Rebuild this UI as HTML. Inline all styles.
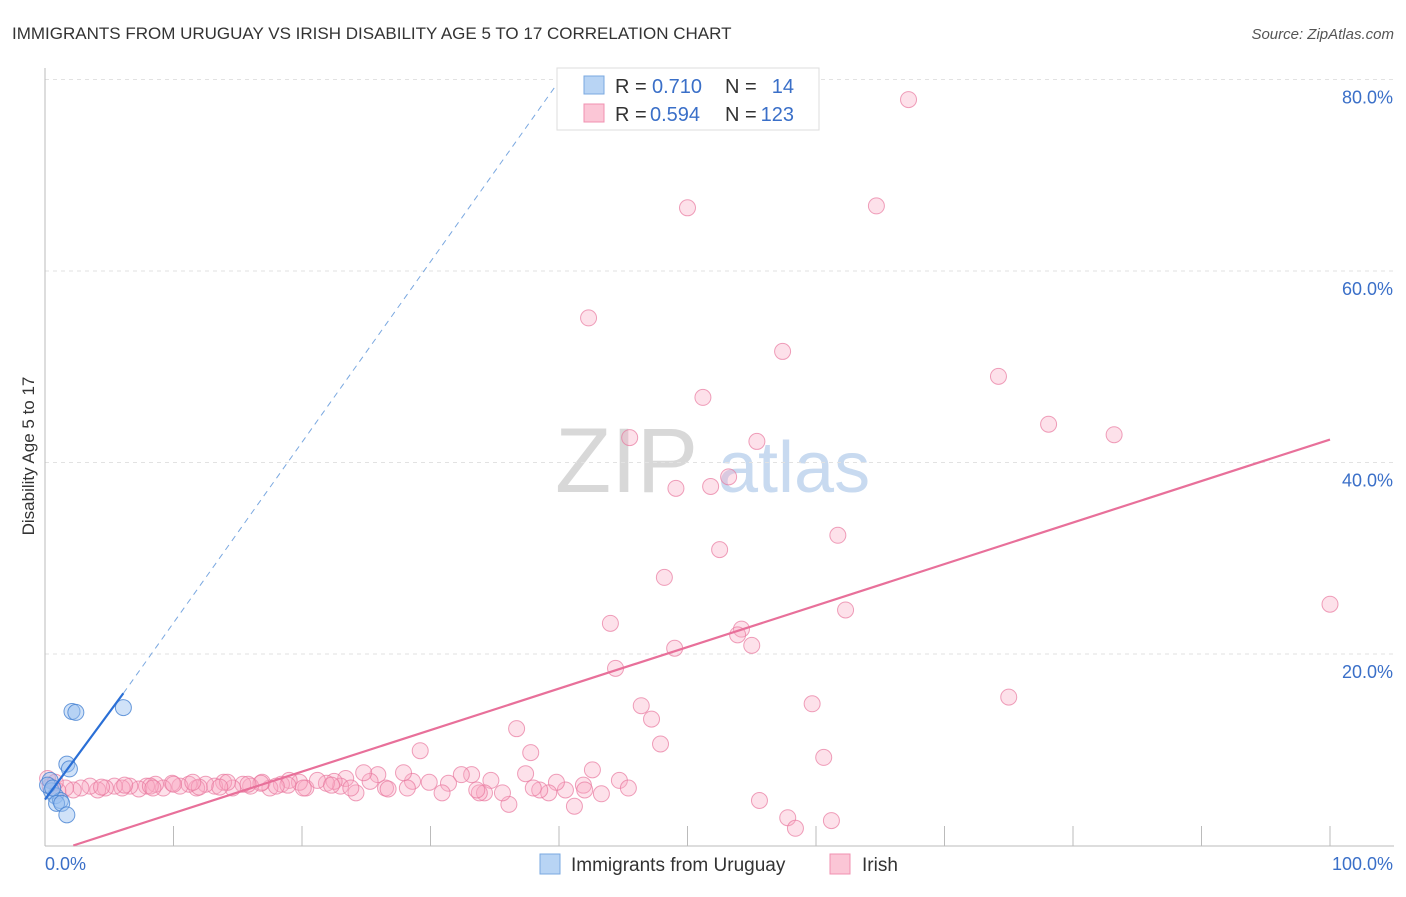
<!DOCTYPE html>
<html><head><meta charset="utf-8"><style>
body{margin:0;background:#fff;font-family:"Liberation Sans",sans-serif;}
svg text{font-family:"Liberation Sans",sans-serif;}
</style></head><body>
<svg id="c" width="1406" height="892">
<text x="12" y="39" font-size="17" fill="#333">IMMIGRANTS FROM URUGUAY VS IRISH DISABILITY AGE 5 TO 17 CORRELATION CHART</text>
<text x="1394" y="39" font-size="15" fill="#555" font-style="italic" text-anchor="end">Source: ZipAtlas.com</text>
<text x="34" y="456" font-size="17" fill="#333" text-anchor="middle" transform="rotate(-90 34 456)">Disability Age 5 to 17</text>
<text x="555" y="492" font-size="92" fill="#d8d8d8" font-family="Liberation Serif">ZIP</text>
<text x="718" y="492" font-size="72" fill="#c8daf0">atlas</text>
<g id="grid"></g><g id="pts"></g><g id="lines"></g>
<g>
<rect x="557" y="68" width="262" height="62" fill="#fff" stroke="#ddd"/>
<rect x="584" y="76" width="20" height="18" fill="#b8d4f4" stroke="#7aa8e0"/>
<rect x="584" y="104" width="20" height="18" fill="#fbc6d6" stroke="#f090b0"/>
<text x="615" y="93" font-size="20" fill="#333">R =</text>
<text x="652" y="93" font-size="20" fill="#3a6fc8">0.710</text>
<text x="725" y="93" font-size="20" fill="#333">N =</text>
<text x="794" y="93" font-size="20" fill="#3a6fc8" text-anchor="end">14</text>
<text x="615" y="121" font-size="20" fill="#333">R =</text>
<text x="650" y="121" font-size="20" fill="#3a6fc8">0.594</text>
<text x="725" y="121" font-size="20" fill="#333">N =</text>
<text x="794" y="121" font-size="20" fill="#3a6fc8" text-anchor="end">123</text>
</g>
<g>
<rect x="540" y="854" width="20" height="20" fill="#b8d4f4" stroke="#7aa8e0"/>
<text x="571" y="871" font-size="19" fill="#333">Immigrants from Uruguay</text>
<rect x="830" y="854" width="20" height="20" fill="#fbc6d6" stroke="#f090b0"/>
<text x="862" y="871" font-size="19" fill="#333">Irish</text>
</g>
</svg>
<script>
const yTicks=[20,40,60,80];
const yTickLabels=["20.0%","40.0%","60.0%","80.0%"];
const xLabels=["0.0%","100.0%"];
const blueX=[2.1,2.4,6.1,1.7,1.9,0.4,0.5,0.8,1.2,0.9,1.3,1.7,0.2,0.6];
const blueY=[14.0,13.9,14.4,8.5,8.0,6.8,5.7,5.2,4.7,4.4,4.4,3.2,6.3,6.0];
const pinkX=[67.2,50.0,64.7,42.3,57.4,51.2,74.2,78.1,45.5,55.4,
83.2,49.1,51.8,53.2,52.5,61.7,48.2,44.0,62.3,54.2,
53.9,55.0,49.0,44.4,100.0,75.0,46.4,47.2,59.7,47.9,
36.7,37.8,29.2,60.6,55.6,57.8,58.4,61.2,
42.6,44.7,45.4,43.3,41.2,41.9,40.5,39.8,39.2,38.5,
37.4,36.1,35.6,34.7,34.2,33.8,33.2,32.4,31.4,30.9,
28.6,28.2,27.9,26.5,25.9,25.3,24.8,24.2,23.4,23.0,
22.5,21.9,20.3,19.8,19.0,18.4,17.5,16.9,16.0,15.4,
14.6,13.9,13.2,12.5,11.8,11.2,10.5,9.9,9.2,8.6,
7.9,7.3,6.6,6.0,5.4,4.7,4.1,3.5,2.8,2.2,
1.6,1.0,0.4,0.2,0.8,12.0,10.0,14.2,8.2,16.8,
18.9,21.2,23.8,26.7,29.9,33.6,38.0,42.0,4.4,6.2,
8.4,11.5,13.6,15.8,18.0,20.1,22.3];
const pinkY=[77.9,66.6,66.8,55.1,51.6,46.8,49.0,44.0,42.6,42.2,
42.9,37.3,37.5,38.5,30.9,32.4,28.0,23.2,24.6,22.6,
22.0,20.9,20.6,18.5,25.2,15.5,14.6,13.2,14.8,10.6,
12.2,9.7,9.9,9.2,4.7,2.9,1.8,2.6,
7.9,6.8,6.0,5.4,4.1,6.3,5.8,6.6,5.5,5.8,
7.5,4.3,5.5,6.8,5.5,5.5,7.4,7.4,6.5,5.5,
6.7,6.0,7.6,6.0,7.4,6.7,7.6,5.5,7.0,6.2,
6.7,6.5,6.0,6.6,6.8,6.4,6.0,6.6,6.2,6.4,
6.0,6.6,6.2,6.4,6.0,6.4,6.2,6.5,6.0,6.4,
6.2,5.9,6.2,6.0,6.2,6.0,5.8,6.2,6.0,5.8,
6.0,5.7,6.2,7.0,6.6,6.1,6.4,6.6,6.2,6.5,
6.3,6.8,6.0,5.9,6.6,5.8,6.0,5.8,6.1,6.3,
6.0,6.6,6.1,6.4,6.2,6.0,6.3];
const blueFit=[[0,4.8],[6.1,15.9]];
const blueDash=[[6.1,15.9],[40.2,80.2]];
const pinkFit=[[2.2,0],[100,42.4]];
const NS="http://www.w3.org/2000/svg";
const X=v=>45+v*12.85, Y=v=>845.5-v*9.575;
function mk(t,a,p){const e=document.createElementNS(NS,t);for(const k in a)e.setAttribute(k,a[k]);p.appendChild(e);return e;}
const g=document.getElementById('grid');
yTicks.forEach((t,i)=>{
 const l=mk('line',{x1:45,x2:1394,y1:Y(t),y2:Y(t),stroke:'#e2e2e2','stroke-dasharray':'4 4'},g);
 
 
 const tx=mk('text',{x:1393,y:Y(t)+24,'font-size':18,fill:'#3a6fc8','text-anchor':'end'},g);
 tx.textContent=yTickLabels[i];
 
 
});
const ax=mk('line',{x1:45,x2:45,y1:68,y2:846,stroke:'#bbb'},g);


const bx=mk('line',{x1:45,x2:1394,y1:846,y2:846,stroke:'#bbb'},g);


for(let i=1;i<=10;i++){const t=mk('line',{x1:X(i*10),x2:X(i*10),y1:826,y2:846,stroke:'#bbb'},g);
 
 }
[[0,'start',45],[100,'end',1393]].forEach((d,i)=>{const t=mk('text',{x:d[2],y:870,'font-size':18,fill:'#3a6fc8','text-anchor':d[1]},g);t.textContent=xLabels[i];
 
 });
const p=document.getElementById('pts');
const n=Math.min(pinkX.length,pinkY.length);
for(let i=0;i<n;i++){const c=mk('circle',{cx:X(pinkX[i]),cy:Y(pinkY[i]),r:8,fill:'rgba(248,170,195,0.35)',stroke:'rgba(232,120,158,0.7)','stroke-width':1},p);
 
 }
blueX.forEach((v,i)=>{const c=mk('circle',{cx:X(v),cy:Y(blueY[i]),r:8,fill:'rgba(150,190,240,0.45)',stroke:'rgba(70,130,210,0.8)','stroke-width':1},p);
 
 });
const L=document.getElementById('lines');
const a=mk('line',{x1:X(blueFit[0][0]),y1:Y(blueFit[0][1]),x2:X(blueFit[1][0]),y2:Y(blueFit[1][1]),stroke:'#2a6fd6','stroke-width':2.2},L);


const b=mk('line',{x1:X(blueDash[0][0]),y1:Y(blueDash[0][1]),x2:X(blueDash[1][0]),y2:Y(blueDash[1][1]),stroke:'#7aa8e0','stroke-width':1,'stroke-dasharray':'6 5'},L);


const c=mk('line',{x1:X(pinkFit[0][0]),y1:Y(pinkFit[0][1]),x2:X(pinkFit[1][0]),y2:Y(pinkFit[1][1]),stroke:'#e8709a','stroke-width':2.2},L);


</script>
</body></html>
